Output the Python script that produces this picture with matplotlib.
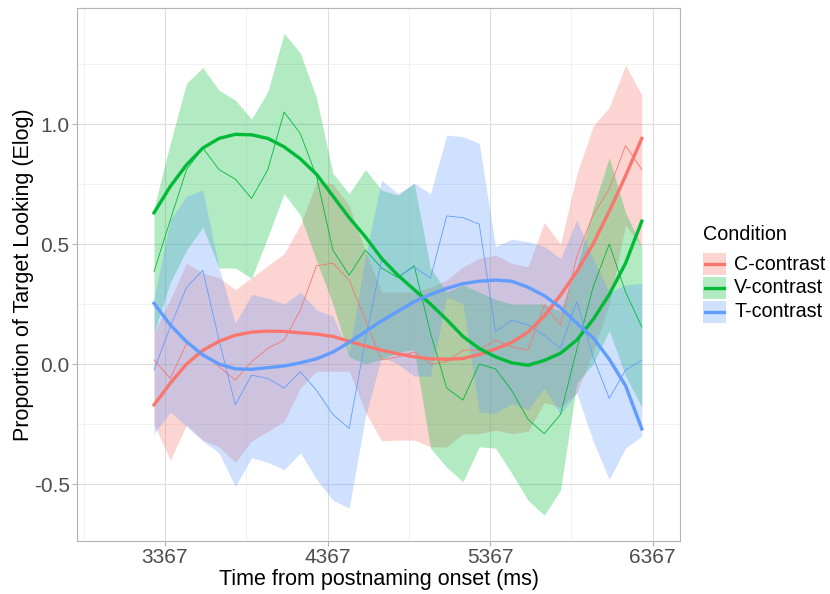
import matplotlib
matplotlib.use('Agg')
import matplotlib.pyplot as plt
from matplotlib.patches import Rectangle
from matplotlib.lines import Line2D

plt.rcParams['font.family'] = ['Liberation Sans', 'DejaVu Sans']

# time bins (ms from postnaming onset)
times = [3300, 3400, 3500, 3600, 3700, 3800, 3900, 4000, 4100, 4200, 4300,
         4400, 4500, 4600, 4700, 4800, 4900, 5000, 5100, 5200, 5300,
         5400, 5500, 5600, 5700, 5800, 5900, 6000, 6100, 6200, 6300]

conditions = ['C-contrast', 'V-contrast', 'T-contrast']
colors = ['#F8766D', '#00BA38', '#619CFF']

# observed means (thin lines)
c_mean = [0.017, -0.06, 0.086, 0.044, -0.011, -0.067, 0.01, 0.065, 0.10, 0.225, 0.41,
          0.42, 0.35, 0.183, 0.017, 0.03, 0.05, 0.0, 0.01, 0.058, 0.058,
          0.10, 0.072, 0.058, 0.246, 0.163, 0.447, 0.62, 0.73, 0.91, 0.81]
v_mean = [0.385, 0.60, 0.81, 0.90, 0.81, 0.77, 0.69, 0.81, 1.05, 0.96, 0.78,
          0.475, 0.37, 0.475, 0.40, 0.36, 0.41, 0.13, -0.10, -0.15, 0.0,
          -0.02, -0.11, -0.23, -0.29, -0.21, 0.06, 0.32, 0.50, 0.30, 0.155]
t_mean = [-0.025, 0.155, 0.32, 0.39, 0.10, -0.17, -0.046, -0.06, -0.10, -0.032, -0.11,
          -0.21, -0.268, 0.10, 0.433, 0.364, 0.405, 0.357, 0.617, 0.61, 0.583,
          0.135, 0.183, 0.163, 0.12, 0.065, 0.26, 0.03, -0.143, -0.025, 0.017]

# ribbon bounds
c_upper = [0.13, 0.27, 0.42, 0.38, 0.36, 0.31, 0.36, 0.41, 0.46, 0.58, 0.76,
           0.75, 0.66, 0.47, 0.30, 0.30, 0.30, 0.32, 0.35, 0.405, 0.44,
           0.454, 0.42, 0.405, 0.59, 0.50, 0.79, 0.99, 1.07, 1.245, 1.12]
c_lower = [-0.25, -0.40, -0.254, -0.317, -0.345, -0.41, -0.32, -0.28, -0.24, -0.10, -0.03,
           -0.03, -0.03, -0.20, -0.32, -0.317, -0.317, -0.345, -0.345, -0.29, -0.29,
           -0.275, -0.29, -0.28, -0.16, -0.18, -0.12, 0.05, 0.25, 0.58, 0.49]
v_upper = [0.65, 0.92, 1.17, 1.235, 1.14, 1.10, 1.02, 1.135, 1.378, 1.295, 1.107,
           0.795, 0.71, 0.81, 0.725, 0.704, 0.753, 0.40, 0.30, 0.33, 0.30,
           0.27, 0.25, 0.25, 0.25, 0.22, 0.40, 0.65, 0.86, 0.63, 0.49]
v_lower = [0.13, 0.34, 0.475, 0.57, 0.40, 0.40, 0.357, 0.53, 0.71, 0.62, 0.43,
           0.25, 0.03, 0.0, 0.02, 0.05, 0.06, -0.35, -0.43, -0.49, -0.345,
           -0.35, -0.455, -0.567, -0.63, -0.525, -0.08, 0.0, 0.14, -0.05, -0.18]
t_upper = [0.275, 0.60, 0.70, 0.725, 0.40, 0.17, 0.29, 0.275, 0.25, 0.30, 0.225,
           0.20, 0.05, 0.45, 0.767, 0.71, 0.753, 0.71, 0.954, 0.947, 0.92,
           0.49, 0.52, 0.51, 0.49, 0.44, 0.60, 0.44, 0.30, 0.33, 0.336]
t_lower = [-0.29, -0.20, -0.26, -0.32, -0.37, -0.51, -0.39, -0.41, -0.44, -0.37, -0.48,
           -0.567, -0.60, -0.22, 0.03, 0.0, -0.05, -0.05, 0.28, 0.25, -0.20,
           -0.205, -0.164, -0.19, -0.10, -0.21, -0.12, -0.32, -0.48, -0.35, -0.30]

# fitted curves (thick lines)
c_fit = [-0.17, -0.08, 0.0, 0.057, 0.095, 0.12, 0.133, 0.137, 0.136, 0.13, 0.125,
         0.115, 0.095, 0.075, 0.058, 0.043, 0.03, 0.022, 0.02, 0.023, 0.04,
         0.063, 0.09, 0.133, 0.20, 0.287, 0.385, 0.50, 0.637, 0.784, 0.94]
v_fit = [0.63, 0.74, 0.83, 0.90, 0.94, 0.957, 0.955, 0.94, 0.905, 0.855, 0.79,
         0.70, 0.61, 0.53, 0.44, 0.37, 0.31, 0.25, 0.185, 0.115, 0.065,
         0.03, 0.005, -0.005, 0.015, 0.045, 0.10, 0.185, 0.29, 0.42, 0.595]
t_fit = [0.253, 0.163, 0.093, 0.038, 0.0, -0.02, -0.022, -0.015, -0.008, 0.005, 0.022,
         0.05, 0.09, 0.135, 0.18, 0.22, 0.26, 0.29, 0.315, 0.335, 0.345,
         0.35, 0.345, 0.32, 0.285, 0.235, 0.17, 0.11, 0.02, -0.09, -0.27]

means = [c_mean, v_mean, t_mean]
uppers = [c_upper, v_upper, t_upper]
lowers = [c_lower, v_lower, t_lower]
fits = [c_fit, v_fit, t_fit]

W, H = 830, 594
fig = plt.figure(figsize=(W / 100, H / 100), dpi=100)
ax = fig.add_axes([0.0931, 0.0897, 0.7262, 0.8963])

for i in range(3):
    ax.fill_between(times, lowers[i], uppers[i], color=colors[i], alpha=0.3,
                    linewidth=0, zorder=2)
for i in range(3):
    ax.plot(times, means[i], color=colors[i], linewidth=0.6, zorder=3)
for i in range(3):
    ax.plot(times, fits[i], color=colors[i], linewidth=2.4, zorder=4)

ax.set_xlim(2828, 6535)
ax.set_ylim(-0.736, 1.482)
ax.set_xticks([3367, 4367, 5367, 6367])
ax.set_xticks([2867, 3867, 4867, 5867], minor=True)
ax.set_yticks([-0.5, 0.0, 0.5, 1.0])
ax.set_yticklabels(['-0.5', '0.0', '0.5', '1.0'])
ax.set_yticks([-0.25, 0.25, 0.75, 1.25], minor=True)
ax.grid(which='major', color='#DEDEDE', linewidth=0.8, zorder=0)
ax.grid(which='minor', color='#EBEBEB', linewidth=0.5, zorder=0)
ax.set_axisbelow(True)
for s in ax.spines.values():
    s.set_color('#B3B3B3')
    s.set_linewidth(0.8)
ax.tick_params(which='major', length=3.5, width=0.8, color='#B3B3B3',
               labelsize=15, labelcolor='#4D4D4D', pad=2)
ax.tick_params(which='minor', length=0)
ax.set_xlabel('Time from postnaming onset (ms)', fontsize=15.5, labelpad=1)
ax.set_ylabel('Proportion of Target Looking (Elog)', fontsize=15.5, labelpad=-0.5)

# legend drawn by hand (ggplot-style keys: ribbon box with line)
fig.text(703 / W, 1 - 235 / H, 'Condition', fontsize=14.2, va='center', ha='left')
for i in range(3):
    yc = 264 + 23.8 * i
    fig.add_artist(Rectangle((703 / W, 1 - (yc + 11) / H), 23 / W, 22 / H,
                             transform=fig.transFigure, facecolor=colors[i],
                             alpha=0.3, linewidth=0))
    fig.add_artist(Line2D([705 / W, 724 / W], [1 - yc / H, 1 - yc / H],
                          transform=fig.transFigure, color=colors[i], linewidth=2.4))
    fig.text(734 / W, 1 - yc / H, conditions[i], fontsize=14.2, va='center', ha='left')

fig.savefig('out.png', dpi=100)
